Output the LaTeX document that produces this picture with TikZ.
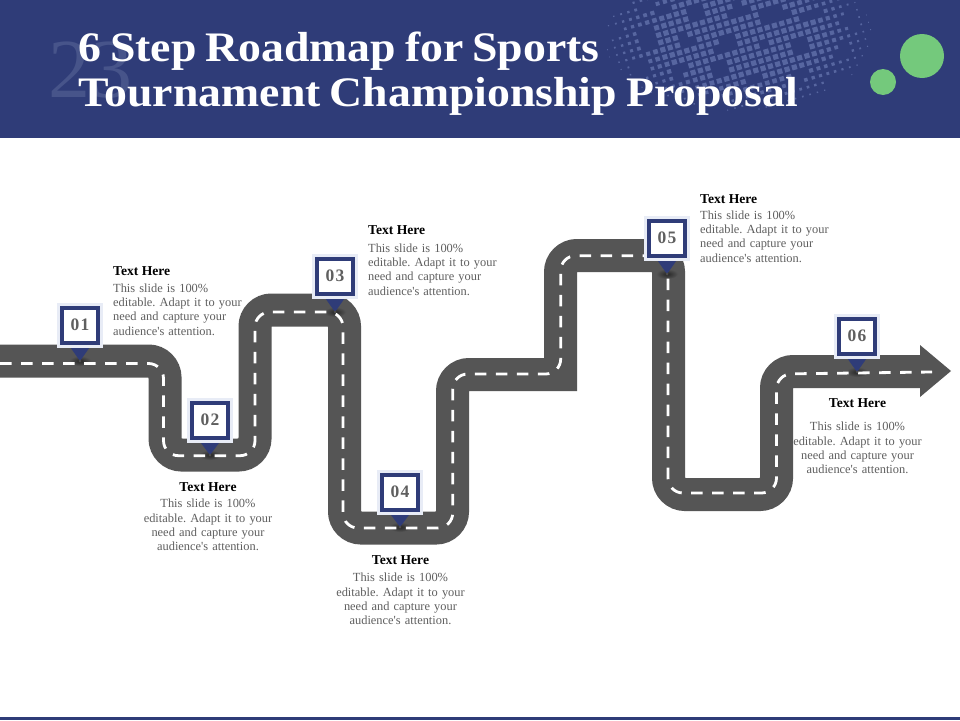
\documentclass[tikz,border=0pt]{standalone}
\usepackage{fontspec}
\setmainfont{Liberation Serif}
\newfontfamily\titlefont[FakeStretch=1.09,WordSpace=0.78]{Liberation Serif}
\newfontfamily\pinfont[LetterSpace=7]{Liberation Serif}
\usetikzlibrary{calc}
\definecolor{navy}{HTML}{2F3C78}
\definecolor{gridblue}{HTML}{5766A0}
\definecolor{ghost}{HTML}{47548A}
\definecolor{roadgray}{HTML}{555555}
\definecolor{halo}{HTML}{E8ECF6}
\definecolor{bodygray}{HTML}{5F5F5F}
\definecolor{leaf}{HTML}{74C97C}
\tikzset{
  x=1pt,y=-1pt,
  road/.style={draw=roadgray,line width=33pt,line join=miter,miter limit=10},
  lane/.style={draw=white,line width=2.8pt,dash pattern=on 11.5pt off 9.5pt,rounded corners=15pt},
  pinbox/.style={draw=navy,line width=4pt,fill=white,minimum width=36pt,minimum height=35pt,inner sep=0pt,
     preaction={draw=halo,line width=10pt},font=\pinfont\fontsize{17.5}{17.5}\selectfont\bfseries,text=bodygray},
  pinpoint/.style={fill=navy,draw=none},
  caption/.style={font=\fontsize{12.4}{14.3}\selectfont\frenchspacing,text=bodygray,inner sep=0pt,text width=140pt},
  capleft/.style={caption,anchor=north west,align=left},
  capmid/.style={caption,anchor=north,align=center},
  head/.style={font=\fontsize{13.6}{14}\selectfont\bfseries,text=black,inner sep=0pt},
  gridsquare/.style={fill=gridblue,draw=none},
}
\newcommand{\bodytext}{This slide is 100\%\\editable. Adapt it to your\\need and capture your\\audience\textquotesingle s attention.}
\begin{document}
\begin{tikzpicture}
\useasboundingbox (0,0) rectangle (960,720);
\fill[white] (0,0) rectangle (960,720);
% header
\fill[navy] (0,0) rectangle (960,138);
\fill[navy] (0,717) rectangle (960,720);
\begin{scope}
\clip (0,0) rectangle (960,138);
\pgfmathsetmacro{\ca}{cos(16)}
\pgfmathsetmacro{\sa}{sin(16)}
\foreach \i in {-22,...,22}{
 \foreach \j in {-14,...,14}{
  \pgfmathsetmacro{\px}{738+7.6*\i*\ca+7.6*\j*\sa}
  \pgfmathsetmacro{\py}{36-7.6*\i*\sa+7.6*\j*\ca}
  \pgfmathsetmacro{\dd}{sqrt(((\px-738)/142)^2+((\py-36)/80)^2)}
  \pgfmathsetmacro{\hole}{sin(61*\i+37*\j)+sin(29*\i-83*\j)+0.6*sin(13*\i*\j)}
  \pgfmathsetmacro{\sz}{(\dd<1)*(\hole>-1.05)*min(5.2,max(0,7.5*(1-\dd*\dd)))/2}
  \ifdim\sz pt>0.4pt
   \pgfmathsetmacro{\ux}{\sz*\ca}
   \pgfmathsetmacro{\uy}{\sz*\sa}
   \fill[gridsquare] (\px-\ux-\uy,\py+\uy-\ux) -- (\px+\ux-\uy,\py-\uy-\ux) -- (\px+\ux+\uy,\py-\uy+\ux) -- (\px-\ux+\uy,\py+\uy+\ux) -- cycle;
  \fi
 }
}
\end{scope}
\node[anchor=base west,inner sep=0pt,text=ghost,font=\fontsize{84}{84}\selectfont] (ghostnum) at (48,97) {23};
\node[anchor=north west,inner sep=0pt,align=left,text=white,font=\titlefont\fontsize{42}{45}\selectfont\bfseries] (title) at (78,32) {6 Step Roadmap for Sports\\Tournament Championship Proposal};
\fill[leaf] (922,56) circle (22);
\fill[leaf] (883,82) circle (13);
% road
\draw[road,rounded corners=16.5pt] (-5,361) -- (165,361) -- (165,455) -- (255,455) -- (255,310) -- (344.5,310) -- (344.5,528) -- (452.5,528) -- (452.5,374.5)
  -- (530,374.5) [sharp corners] -- (560.5,374.5) [rounded corners=16.5pt] -- (560.5,255.5) -- (668.5,255.5) -- (668.5,494.5) -- (776.5,494.5) -- (776.5,371.5) -- (921,371.5);
\fill[roadgray] (920,345) -- (951,371) -- (920,397) -- cycle;
% pin shadows
\foreach \tx/\ty in {80/361,210/455,335/312,400/527,667/274,857/372}{
  \shade[inner color=black!85,outer color=roadgray] (\tx,\ty) ellipse (11 and 5);
}
% lane
\draw[lane] (0,363.5) -- (163.5,363.5) -- (163.5,455.7) -- (255,455.7) -- (255,312) -- (343,312) -- (343,528) -- (452.7,528) -- (452.7,374) -- (560.7,374) -- (560.7,255.7) -- (668,255.7) -- (668,493) -- (776.5,493) -- (776.5,374) -- (932,372);
% pins
\foreach \n/\bx/\by/\ty in {01/80/325/361,02/210/420/455,03/335/276/312,04/400/492/527,05/667/238/274,06/857/336/372}{
  \coordinate (tip\n) at (\bx,\ty);
  \fill[pinpoint] (\bx-12,\by+19) -- (tip\n) -- (\bx+12,\by+19) -- cycle;
  \fill[black!70] (tip\n) circle (1.5);
  \node[pinbox] (box\n) at (\bx,\by) {\n};
}
% captions
\node[head,anchor=north west] (h1) at (113,266) {Text Here};
\node[capleft] (t1) at (113,283.5) {\bodytext};
\node[head,anchor=north] (h2) at (208,482) {Text Here};
\node[capmid] (t2) at (208,499) {\bodytext};
\node[head,anchor=north west] (h3) at (368,225) {Text Here};
\node[capleft] (t3) at (368,243.5) {\bodytext};
\node[head,anchor=north] (h4) at (400.5,555) {Text Here};
\node[capmid] (t4) at (400.5,573) {\bodytext};
\node[head,anchor=north west] (h5) at (700,194) {Text Here};
\node[capleft] (t5) at (700,210.5) {\bodytext};
\node[head,anchor=north] (h6) at (857.5,398) {Text Here};
\node[capmid] (t6) at (857.5,422) {\bodytext};
\end{tikzpicture}
\end{document}
